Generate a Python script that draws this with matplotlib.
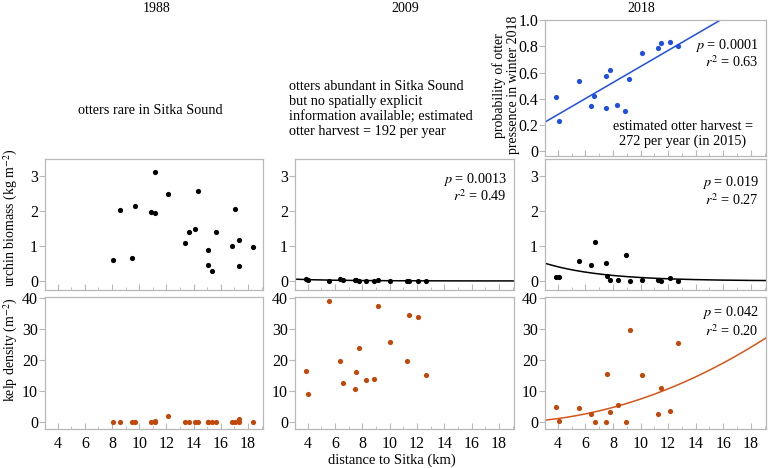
import numpy as np
import matplotlib
matplotlib.use('Agg')
import matplotlib.pyplot as plt
from matplotlib.ticker import MultipleLocator

plt.rcParams['font.family'] = 'serif'
plt.rcParams['font.serif'] = ['Liberation Serif', 'STIXGeneral', 'DejaVu Serif']
plt.rcParams['mathtext.fontset'] = 'stix'

# ---- 数据 ----
# 1988
x_1988 = [8.07, 8.55, 9.47, 9.67, 10.84, 11.18, 11.18, 12.08, 13.34, 13.63, 14.10,
          14.29, 15.02, 15.05, 15.36, 15.63, 16.82, 17.07, 17.33, 17.33, 18.33]
urchin_1988 = [0.60, 2.05, 0.66, 2.16, 1.97, 1.96, 3.14, 2.50, 1.10, 1.41, 1.50,
               2.58, 0.88, 0.45, 0.28, 1.41, 1.00, 2.07, 1.18, 0.42, 0.98]
kelp_1988 = [0.0, 0.0, 0.0, 0.2, 0.0, 0.4, 0.0, 2.0, 0.0, 0.0, 0.3,
             0.0, 0.0, 0.0, 0.0, 0.0, 0.0, 0.0, 1.0, 0.2, 0.0]

# 2009
x_2009 = [3.87, 4.05, 5.53, 6.38, 6.62, 7.45, 7.50, 7.76, 8.30, 8.86, 9.15,
          10.05, 11.26, 11.43, 12.04, 12.65]
urchin_2009 = [0.05, 0.04, 0.0, 0.05, 0.02, 0.02, 0.02, 0.01, 0.0, 0.01, 0.04,
               0.0, 0.0, 0.0, 0.0, 0.0]
kelp_2009 = [16.5, 9.0, 39.0, 19.6, 12.7, 10.7, 16.2, 23.8, 13.5, 14.0, 37.4,
             25.9, 19.8, 34.4, 33.9, 15.3]

# 2018
x_2018 = [3.90, 4.07, 5.55, 6.42, 6.67, 7.50, 7.56, 7.81, 8.34, 8.91, 9.20,
          10.10, 11.30, 11.48, 12.13, 12.72]
urchin_2018 = [0.12, 0.12, 0.57, 0.47, 1.12, 0.52, 0.14, 0.04, 0.03, 0.75, 0.0,
               0.03, 0.03, 0.0, 0.09, 0.0]
kelp_2018 = [4.9, 0.4, 4.7, 2.8, 0.0, 0.2, 15.6, 3.2, 5.5, 0.2, 29.7,
             15.1, 2.7, 11.0, 3.7, 25.6]
prob_x_2018 = [3.90, 4.05, 5.52, 6.43, 6.65, 7.50, 7.53, 7.80, 8.31, 8.88, 9.17,
               10.10, 11.28, 11.47, 12.13, 12.72]
prob_2018 = [0.415, 0.235, 0.534, 0.349, 0.422, 0.329, 0.577, 0.617, 0.352, 0.304, 0.551,
             0.752, 0.790, 0.825, 0.830, 0.802]

# 拟合曲线参数
prob_fit = (0.036, 0.061)          # 截距, 斜率
urchin_fit_2009 = (0.126, 0.30)    # a * exp(-b x)
urchin_fit_2018 = (1.05, 0.237)
kelp_fit_2018 = (0.0735, -0.1)     # a * (x - x0)^2

BLUE = '#1f4fe0'
KELP = '#c2480a'
KELP_LINE = '#d4561a'
SPINE = '#b8b8b8'

W, H = 768, 468
XLIM = (3.07, 19.1)
FS = 10.3      # 正文字号
LABEL_FS = 10
TICK_FS = 11.5


def px_axes(fig, x0, y0, x1, y1):
    """按像素位置添加坐标轴 (y 从上往下)"""
    return fig.add_axes([x0 / W, 1 - y1 / H, (x1 - x0) / W, (y1 - y0) / H])


def style(ax, show_xlabels):
    for s in ax.spines.values():
        s.set_color(SPINE)
        s.set_linewidth(0.9)
    ax.set_xlim(*XLIM)
    ax.xaxis.set_major_locator(MultipleLocator(2))
    ax.xaxis.set_minor_locator(MultipleLocator(1))
    ax.tick_params(axis='x', which='both', direction='in', color=SPINE, labelsize=TICK_FS,
                   labelbottom=show_xlabels, pad=5)
    ax.tick_params(axis='x', which='major', length=4)
    ax.tick_params(axis='x', which='minor', length=2.5)
    ax.tick_params(axis='y', direction='out', color=SPINE, length=4, labelsize=TICK_FS, pad=1)


def stats(ax, p, r2, y_p, y_r):
    ax.text(0.967, y_p, f'$p$ = {p}', transform=ax.transAxes, ha='right', va='center', fontsize=FS)
    ax.text(0.967, y_r, f'$r^2$ = {r2}', transform=ax.transAxes, ha='right', va='center', fontsize=FS)


fig = plt.figure(figsize=(W / 100, H / 100), dpi=100)

cols = [(45, 263), (295, 514), (545, 766)]
urchin_rows = (159, 290)
kelp_rows = (297, 429)

xs = np.linspace(XLIM[0], XLIM[1], 200)

# 顶部: 2018 水獭出现概率
ax_top = px_axes(fig, 545, 20, 766, 156)
style(ax_top, False)
ax_top.scatter(prob_x_2018, prob_2018, s=14, color=BLUE, zorder=3, linewidths=0)
ax_top.plot(xs, prob_fit[0] + prob_fit[1] * xs, color=BLUE, lw=1.1)
ax_top.set_ylim(-0.035, 1.0)
ax_top.set_yticks([0, 0.2, 0.4, 0.6, 0.8, 1.0])
ax_top.set_yticklabels(['0', '0.2', '0.4', '0.6', '0.8', '1.0'])
ax_top.set_ylabel('probability of otter\npressence in winter 2018', fontsize=LABEL_FS, linespacing=1.05)
ax_top.yaxis.set_label_coords(-0.115, 0.52)
stats(ax_top, '0.0001', '0.63', 0.81, 0.69)
ax_top.text(0.624, 0.16, 'estimated otter harvest =\n272 per year (in 2015)', transform=ax_top.transAxes,
            ha='center', va='center', fontsize=FS, linespacing=1.15)

urchin_x = [x_1988, x_2009, x_2018]
urchin_y = [urchin_1988, urchin_2009, urchin_2018]
kelp_y = [kelp_1988, kelp_2009, kelp_2018]

for i, (c0, c1) in enumerate(cols):
    # 海胆生物量
    ax = px_axes(fig, c0, urchin_rows[0], c1, urchin_rows[1])
    style(ax, False)
    ax.scatter(urchin_x[i], urchin_y[i], s=14, color='black', zorder=3, linewidths=0)
    ax.set_ylim(-0.26, 3.5)
    ax.set_yticks([0, 1, 2, 3])
    if i == 1:
        ax.plot(xs, urchin_fit_2009[0] * np.exp(-urchin_fit_2009[1] * xs), color='black', lw=1.1)
        stats(ax, '0.0013', '0.49', 0.84, 0.72)
    if i == 2:
        ax.plot(xs, urchin_fit_2018[0] * np.exp(-urchin_fit_2018[1] * xs), color='black', lw=1.1)
        stats(ax, '0.019', '0.27', 0.82, 0.69)
    if i == 0:
        ax.set_ylabel('urchin biomass (kg m$^{-2}$)', fontsize=LABEL_FS)
        ax.yaxis.set_label_coords(-0.115, 0.55)

    # 海带密度
    ax2 = px_axes(fig, c0, kelp_rows[0], c1, kelp_rows[1])
    style(ax2, True)
    ax2.scatter(urchin_x[i], kelp_y[i], s=14, color=KELP, zorder=3, linewidths=0)
    ax2.set_ylim(-2.1, 40.2)
    ax2.set_yticks([0, 10, 20, 30, 40])
    if i == 2:
        ax2.plot(xs, kelp_fit_2018[0] * (xs - kelp_fit_2018[1]) ** 2, color=KELP_LINE, lw=1.1)
        stats(ax2, '0.042', '0.20', 0.88, 0.745)
    if i == 0:
        ax2.set_ylabel('kelp density (m$^{-2}$)', fontsize=LABEL_FS)
        ax2.yaxis.set_label_coords(-0.115, 0.6)

# 年份标题和说明文字
fig.text(157 / W, 1 - 9 / H, '1988', ha='center', va='center', fontsize=10)
fig.text(405 / W, 1 - 9 / H, '2009', ha='center', va='center', fontsize=10)
fig.text(641 / W, 1 - 8 / H, '2018', ha='center', va='center', fontsize=10)
fig.text(150 / W, 1 - 110 / H, 'otters rare in Sitka Sound', ha='center', va='center', fontsize=FS)
fig.text(289 / W, 1 - 109 / H,
         'otters abundant in Sitka Sound\nbut no spatially explicit\n'
         'information available; estimated\notter harvest = 192 per year',
         ha='left', va='center', fontsize=FS, linespacing=1.2)
fig.text(392 / W, 1 - 460 / H, 'distance to Sitka (km)', ha='center', va='center', fontsize=10.5)

plt.savefig('out.png', dpi=100)
